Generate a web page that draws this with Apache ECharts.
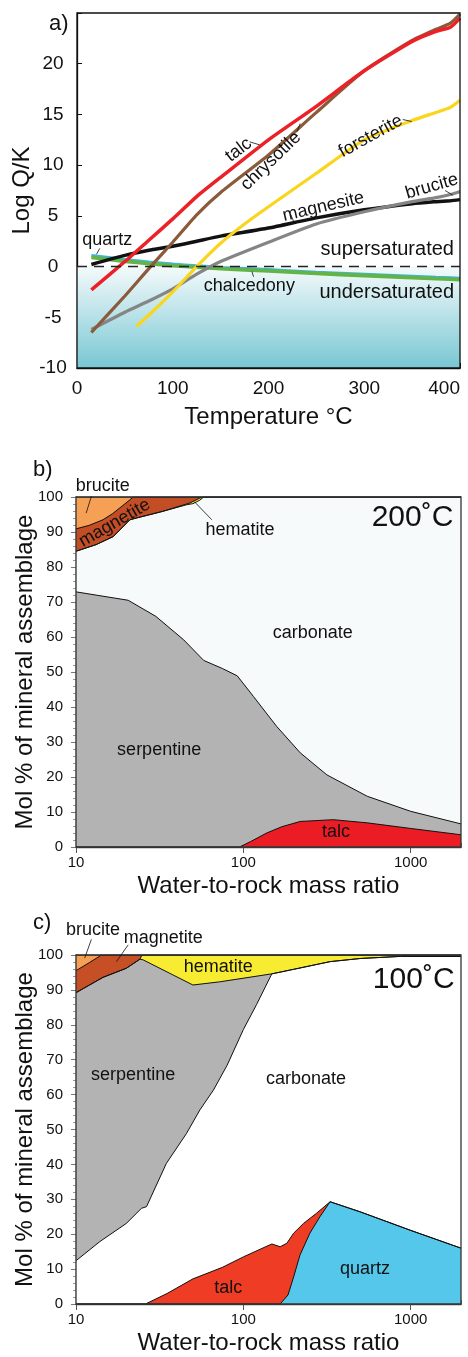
<!DOCTYPE html>
<html>
<head>
<meta charset="utf-8">
<title>Log Q/K and mineral assemblages</title>
<script src="https://cdn.jsdelivr.net/npm/echarts@6.0.0/dist/echarts.min.js"></script>
<style>
  html, body { margin: 0; padding: 0; background: #fff; }
  #chart { width: 468px; height: 1357px; }
</style>
</head>
<body>
<div id="chart"></div>
<script>
// ---- a) saturation index vs temperature ----
const temps = [15, 50, 75, 100, 125, 150, 200, 250, 300, 350, 375, 390, 400]
const talcQK = [-2.3, 0.5, 2.6, 4.7, 6.9, 8.8, 12.5, 15.8, 19.3, 22.2, 23.2, 23.6, 24.5]
const chrysotileQK = [-6.5, -2.9, -0.2, 2.4, 5.1, 7.3, 11.0, 15.2, 19.3, 22.3, 23.4, 24.0, 24.9]
const magnesiteQK = [0.2, 1.1, 1.6, 2.0, 2.5, 3.0, 3.8, 4.8, 5.6, 6.2, 6.4, 6.5, 6.6]
const bruciteQK = [-6.2, -4.5, -3.4, -2.2, -0.75, 0.5, 2.4, 4.2, 5.4, 6.4, 6.8, 7.1, 7.4]
const quartzQK = [1.1, 0.7, 0.45, 0.25, 0.08, -0.08, -0.3, -0.55, -0.75, -0.95, -1.05, -1.1, -1.15]
const chalcedonyQK = [0.9, 0.52, 0.3, 0.1, -0.05, -0.2, -0.43, -0.68, -0.88, -1.08, -1.18, -1.23, -1.28]
const forsteriteTemps = [62, 75, 100, 125, 150, 175, 200, 250, 300, 350, 375, 390, 400]
const forsteriteQK = [-5.9, -4.8, -2.5, 0, 2.3, 4.2, 5.9, 9.2, 12.5, 14.4, 15.2, 15.7, 16.4]
const tempLabels = [0, 100, 200, 300, 400]
const qkLabels = [-10, -5, 0, 5, 10, 15, 20]

// ---- b) 200 C, cumulative mol % boundaries vs water/rock ----
const bBruciteTopX = [10, 2000]
const bBruciteTopY = [100, 100]
const bMagnetiteTopX = [10, 12, 14.5, 16.5, 18.3, 21, 22, 2000]
const bMagnetiteTopY = [90.9, 91.9, 93.5, 95.2, 96.9, 99.2, 100, 100]
const bHematiteTopX = [10, 13.2, 16.7, 21, 23, 33, 48, 55, 58, 2000]
const bHematiteTopY = [84.5, 86.4, 88.7, 93.5, 94, 95.9, 98.3, 99.7, 100, 100]
const bCarbonateTopX = [10, 13.2, 16.7, 21, 23, 33, 46, 50, 55, 58, 2000]
const bCarbonateTopY = [84.5, 86.4, 88.7, 93.5, 94, 95.9, 97.8, 98.1, 99.1, 100, 100]
const bSerpentineTopX = [10, 20.5, 30, 44, 58, 75, 92, 115, 158, 219, 316, 550, 1000, 2000]
const bSerpentineTopY = [72.9, 70.5, 65.9, 59.2, 53.3, 51, 48.9, 43, 34.5, 26.9, 20.6, 14.5, 10.2, 6.6]
const bTalcTopX = [10, 95, 110, 138, 170, 219, 345, 550, 1000, 2000]
const bTalcTopY = [0, 0, 1.5, 4, 5.8, 7.3, 7.8, 6.9, 5.3, 3.5]

// ---- c) 100 C ----
const cBruciteTopX = [10, 2000]
const cBruciteTopY = [100, 100]
const cMagnetiteTopX = [10, 12, 14.2, 2000]
const cMagnetiteTopY = [95.5, 97.8, 100, 100]
const cHematiteTopX = [10, 14.5, 20, 24.1, 24.8, 2000]
const cHematiteTopY = [89.2, 93.6, 96.2, 98.8, 100, 100]
const cSerpentineTopX = [10, 14.5, 20, 24.1, 25.2, 50, 72, 148, 200, 330, 500, 870, 2000]
const cSerpentineTopY = [89.2, 93.6, 96.2, 98.8, 98.6, 91.4, 92.3, 94.6, 95.9, 98.1, 99, 99.6, 99.6]
const cCarbonateTopX = [10, 13.9, 20, 24.6, 26.4, 34.7, 45.8, 55, 66.3, 80, 100, 120, 148, 200, 330, 500, 870, 2000]
const cCarbonateTopY = [12.4, 17.9, 23.1, 27.4, 27.9, 40.3, 48.9, 55.6, 61.3, 68.4, 78.6, 85.8, 94.6, 95.9, 98.1, 99, 99.6, 99.6]
const cTalcTopX = [10, 26, 35, 50, 75, 100, 148, 166, 182, 200, 229, 274, 330, 500, 1000, 2000]
const cTalcTopY = [0, 0, 3, 7.2, 10.5, 13.5, 17.2, 16.4, 17.4, 20.3, 23.1, 26, 29.3, 26.4, 21.1, 16]
const cQuartzTopX = [10, 166, 185, 200, 218, 250, 287, 330, 500, 1000, 2000]
const cQuartzTopY = [0, 0, 2.6, 7.8, 14, 20.3, 25, 29.3, 26.4, 21.1, 16]

const ratioLabels = [10, 100, 1000]
const ratioMinorTicks = [20, 30, 40, 50, 60, 70, 80, 90, 200, 300, 400, 500, 600, 700, 800, 900, 2000]
const molLabels = [0, 10, 20, 30, 40, 50, 60, 70, 80, 90, 100]

const FONT = "'Liberation Sans', Arial, Helvetica, sans-serif"
const INK = '#111'
const lg = v => Math.log10(v)
const zip = (xs, ys) => xs.map((x, i) => [x, ys[i]])
const zipLog = (xs, ys) => xs.map((x, i) => [lg(x), ys[i]])

// text tag placed in data space
const tag = (text, coord, rotate, size) => ({
  name: text,
  coord: coord,
  label: {
    show: true, position: 'inside', formatter: text, rotate: rotate || 0,
    fontSize: size || 18, color: INK, fontFamily: FONT
  }
})
const tagRight = (text, coord, size) => ({
  name: text,
  coord: coord,
  label: {
    show: true, position: 'left', distance: 0, formatter: text,
    fontSize: size, color: INK, fontFamily: FONT
  }
})
const leader = (a, b) => [{coord: a}, {coord: b}]
const marks = (tags, leaders) => ({
  markPoint: {
    symbol: 'circle', symbolSize: 0, silent: true, animation: false,
    data: tags
  },
  markLine: {
    symbol: ['none', 'none'], silent: true, animation: false,
    lineStyle: {color: INK, width: 0.8, type: 'solid'},
    label: {show: false}, emphasis: {disabled: true},
    data: leaders || []
  }
})

function lineA(name, xs, ys, color, width, tags, leaders) {
  return Object.assign({
    name: name, type: 'line', xAxisIndex: 0, yAxisIndex: 0,
    data: zip(xs, ys), showSymbol: false, symbol: 'none',
    smooth: 0.2,
    lineStyle: {color: color, width: width}, itemStyle: {color: color},
    z: 3
  }, marks(tags, leaders))
}

function band(name, grid, xs, ys, fill, extra) {
  return Object.assign({
    name: name, type: 'line', xAxisIndex: grid === 'b' ? 1 : 3, yAxisIndex: grid === 'b' ? 1 : 2,
    data: zipLog(xs, ys), showSymbol: false, symbol: 'none',
    lineStyle: {color: '#111', width: 1}, itemStyle: {color: fill},
    areaStyle: {color: fill, opacity: 1}
  }, extra || {})
}

const labelsFmt = list => v => list.includes(v) ? String(v) : ''

function ratioAxes(gridIndex) {
  return [
    {
      type: 'value', gridIndex: gridIndex, min: 1, max: lg(2000),
      name: 'Water-to-rock mass ratio', nameLocation: 'middle', nameGap: 27,
      nameMoveOverlap: false,
      nameTextStyle: {fontSize: 24, color: INK, fontFamily: FONT},
      axisLine: {show: true, onZero: false, lineStyle: {color: '#444', width: 1.3}},
      axisTick: {show: true, length: 6, customValues: ratioLabels.map(lg), lineStyle: {color: '#555'}},
      axisLabel: {
        customValues: ratioLabels.map(lg), margin: 8, fontSize: 15, color: INK, fontFamily: FONT,
        formatter: v => String(Math.round(Math.pow(10, v)))
      },
      splitLine: {show: false}
    },
    {
      type: 'value', gridIndex: gridIndex, min: 1, max: lg(2000),
      axisLine: {show: false},
      axisTick: {show: true, length: 4, customValues: ratioMinorTicks.map(lg), lineStyle: {color: '#777'}},
      axisLabel: {show: false},
      splitLine: {show: false}
    }
  ]
}

function molAxis(gridIndex) {
  return {
    type: 'value', gridIndex: gridIndex, min: 0, max: 100, interval: 10,
    name: 'Mol % of mineral assemblage', nameLocation: 'middle', nameGap: 39,
    nameMoveOverlap: false,
    nameTextStyle: {fontSize: 24, color: INK, fontFamily: FONT},
    axisLine: {show: true, onZero: false, lineStyle: {color: '#444', width: 1.3}},
    axisTick: {show: true, length: 5, lineStyle: {color: '#777'}},
    minorTick: {show: true, splitNumber: 5, length: 3, lineStyle: {color: '#999'}},
    axisLabel: {margin: 13, fontSize: 15, color: INK, fontFamily: FONT, formatter: labelsFmt(molLabels)},
    splitLine: {show: false}
  }
}

const gridBase = {show: true, borderColor: '#333', borderWidth: 1.3, backgroundColor: 'transparent', z: 10, containLabel: false, outerBoundsMode: 'none'}

const option = {
  animation: false,
  backgroundColor: '#fff',
  textStyle: {fontFamily: FONT},
  title: [
    {text: 'a)', left: 44, top: 8, textStyle: {fontSize: 22, fontWeight: 'normal', color: INK, fontFamily: FONT}},
    {text: 'b)', left: 28, top: 454, textStyle: {fontSize: 22, fontWeight: 'normal', color: INK, fontFamily: FONT}},
    {text: 'c)', left: 28, top: 907, textStyle: {fontSize: 22, fontWeight: 'normal', color: INK, fontFamily: FONT}}
  ],
  grid: [
    Object.assign({left: 77, top: 13, width: 383, height: 355}, gridBase, {borderColor: '#111'}),
    Object.assign({left: 76, top: 497, width: 385, height: 350}, gridBase),
    Object.assign({left: 76, top: 955, width: 385, height: 349}, gridBase)
  ],
  xAxis: [
    {
      type: 'value', gridIndex: 0, min: 0, max: 400, interval: 50,
      name: 'Temperature °C', nameLocation: 'middle', nameGap: 37, nameMoveOverlap: false,
      nameTextStyle: {fontSize: 24, color: INK, fontFamily: FONT},
      axisLine: {show: true, onZero: false, lineStyle: {color: INK, width: 1.3}},
      axisTick: {show: true, inside: true, length: 5, lineStyle: {color: INK}},
      axisLabel: {margin: 11, fontSize: 19, color: INK, fontFamily: FONT, alignMaxLabel: 'right', formatter: labelsFmt(tempLabels)},
      splitLine: {show: false}
    },
    ...ratioAxes(1),
    ...ratioAxes(2)
  ],
  yAxis: [
    {
      type: 'value', gridIndex: 0, min: -10, max: 25, interval: 5,
      name: 'Log Q/K', nameLocation: 'middle', nameGap: 43, nameMoveOverlap: false,
      nameTextStyle: {fontSize: 24, color: INK, fontFamily: FONT},
      axisLine: {show: true, onZero: false, lineStyle: {color: INK, width: 1.3}},
      axisTick: {show: true, inside: true, length: 5, lineStyle: {color: INK}},
      axisLabel: {margin: 24, align: 'center', fontSize: 19, color: INK, fontFamily: FONT, formatter: labelsFmt(qkLabels)},
      splitLine: {show: false}
    },
    molAxis(1),
    molAxis(2)
  ],
  series: [
    // backdrop for panel a: undersaturated gradient and zero line
    {
      name: 'saturation', type: 'line', xAxisIndex: 0, yAxisIndex: 0,
      data: [[0, 0]], showSymbol: false, symbol: 'none', lineStyle: {width: 0}, z: 1,
      markArea: {
        silent: true,
        itemStyle: {
          color: {type: 'linear', x: 0, y: 0, x2: 0, y2: 1,
            colorStops: [{offset: 0, color: '#f4fafb'}, {offset: 1, color: '#78c7d3'}]}
        },
        data: [[{yAxis: 0}, {yAxis: -10}]]
      },
      markPoint: {
        symbol: 'circle', symbolSize: 0, silent: true,
        data: [tag('supersaturated', [324, 1.7], 0, 20), tag('undersaturated', [323.5, -2.6], 0, 20)]
      },
      markLine: {
        symbol: ['none', 'none'], silent: true,
        lineStyle: {color: '#222', width: 1.3, type: [10, 7]},
        label: {show: false}, emphasis: {disabled: true},
        data: [{yAxis: 0}]
      }
    },
    lineA('quartz', temps, quartzQK, '#3db3e8', 3,
      [tag('quartz', [31.5, 2.6])], [leader([23.8, 1.8], [20.3, 1.2])]),
    lineA('chalcedony', temps, chalcedonyQK, '#62b446', 3.8,
      [tag('chalcedony', [180, -1.9])], [leader([182.7, -0.5], [184.4, -1.0])]),
    lineA('magnesite', temps, magnesiteQK, '#111111', 3.5,
      [tag('magnesite', [257.4, 5.9], 13)], [leader([223.4, 5.1], [226.9, 4.3])]),
    lineA('brucite', temps, bruciteQK, '#858585', 3.2,
      [tag('brucite', [370.5, 7.9], 16)], [leader([384.4, 7.5], [392.4, 7.05])]),
    lineA('chrysotile', temps, chrysotileQK, '#8b5a3b', 3.2,
      [tag('chrysotile', [202.5, 10.4], 44)], [leader([229.7, 13.3], [233.1, 14.1])]),
    lineA('forsterite', forsteriteTemps, forsteriteQK, '#fad51e', 3.2,
      [tag('forsterite', [306.8, 12.85], 29)], [leader([340.2, 14.5], [349.6, 14.3])]),
    lineA('talc', temps, talcQK, '#ec2127', 3.5,
      [tag('talc', [168.8, 11.5], 37)], [leader([180.3, 12.3], [190.7, 12.0])]),

    // panel b, drawn top layer first so each lower boundary paints over
    band('brucite', 'b', bBruciteTopX, bBruciteTopY, '#f6a056'),
    band('magnetite', 'b', bMagnetiteTopX, bMagnetiteTopY, '#c34e25'),
    band('hematite', 'b', bHematiteTopX, bHematiteTopY, '#f7ea2f'),
    band('carbonate', 'b', bCarbonateTopX, bCarbonateTopY, '#f6fafa'),
    band('serpentine', 'b', bSerpentineTopX, bSerpentineTopY, '#b3b3b3'),
    band('talc', 'b', bTalcTopX, bTalcTopY, '#ec1c24', marks([
      tag('magnetite', [lg(17.05), 92.6], 30),
      tag('hematite', [lg(95.5), 90.7]),
      tag('carbonate', [lg(260), 61.1]),
      tag('serpentine', [lg(31.4), 27.8]),
      tag('talc', [lg(358), 4.2]),
      tagRight('200˚C', [lg(1800), 94], 30)
    ], [
      leader([lg(50.9), 98.7], [lg(64.8), 93.5])
    ])),

    // panel c
    band('brucite', 'c', cBruciteTopX, cBruciteTopY, '#f6a056'),
    band('magnetite', 'c', cMagnetiteTopX, cMagnetiteTopY, '#c74f26'),
    band('hematite', 'c', cHematiteTopX, cHematiteTopY, '#f8ec32'),
    band('serpentine', 'c', cSerpentineTopX, cSerpentineTopY, '#b3b3b3'),
    band('carbonate', 'c', cCarbonateTopX, cCarbonateTopY, '#ffffff'),
    band('talc', 'c', cTalcTopX, cTalcTopY, '#ee3d24'),
    band('quartz', 'c', cQuartzTopX, cQuartzTopY, '#55c7ea', marks([
      tag('hematite', [lg(70.8), 96.5]),
      tag('serpentine', [lg(21.95), 65.6]),
      tag('carbonate', [lg(237), 64.5]),
      tag('talc', [lg(81.3), 4.5]),
      tag('quartz', [lg(534), 10]),
      tagRight('100˚C', [lg(1830), 92.8], 30)
    ]))
  ]
}

const chart = echarts.init(document.getElementById('chart'))
chart.setOption(option)

// labels that sit above the plot frame: placed through the axes' own scales
const finderB = {xAxisIndex: 1, yAxisIndex: 1}
const finderC = {xAxisIndex: 3, yAxisIndex: 2}
const outsideTags = [
  [finderB, 'brucite', [lg(14.45), 103]],
  [finderC, 'brucite', [lg(12.64), 107.2]],
  [finderC, 'magnetite', [lg(33.2), 104.8]]
]
const outsideLeaders = [
  [finderB, [lg(12.36), 100.2], [lg(11.5), 95.4]],
  [finderC, [lg(12.36), 104.5], [lg(11.27), 99.1]],
  [finderC, [lg(20.5), 102.9], [lg(17.45), 98.1]]
]
const graphic = []
outsideTags.forEach(([finder, text, coord]) => {
  const p = chart.convertToPixel(finder, coord)
  graphic.push({
    type: 'text', x: p[0], y: p[1], z: 100,
    style: {text: text, fontSize: 18, fontFamily: FONT, fill: INK,
      textAlign: 'center', textVerticalAlign: 'middle', align: 'center', verticalAlign: 'middle'}
  })
})
outsideLeaders.forEach(([finder, a, b]) => {
  const p = chart.convertToPixel(finder, a)
  const q = chart.convertToPixel(finder, b)
  graphic.push({
    type: 'line', z: 100,
    shape: {x1: p[0], y1: p[1], x2: q[0], y2: q[1]},
    style: {stroke: INK, lineWidth: 0.8}
  })
})
chart.setOption({graphic: graphic})
</script>
</body>
</html>
